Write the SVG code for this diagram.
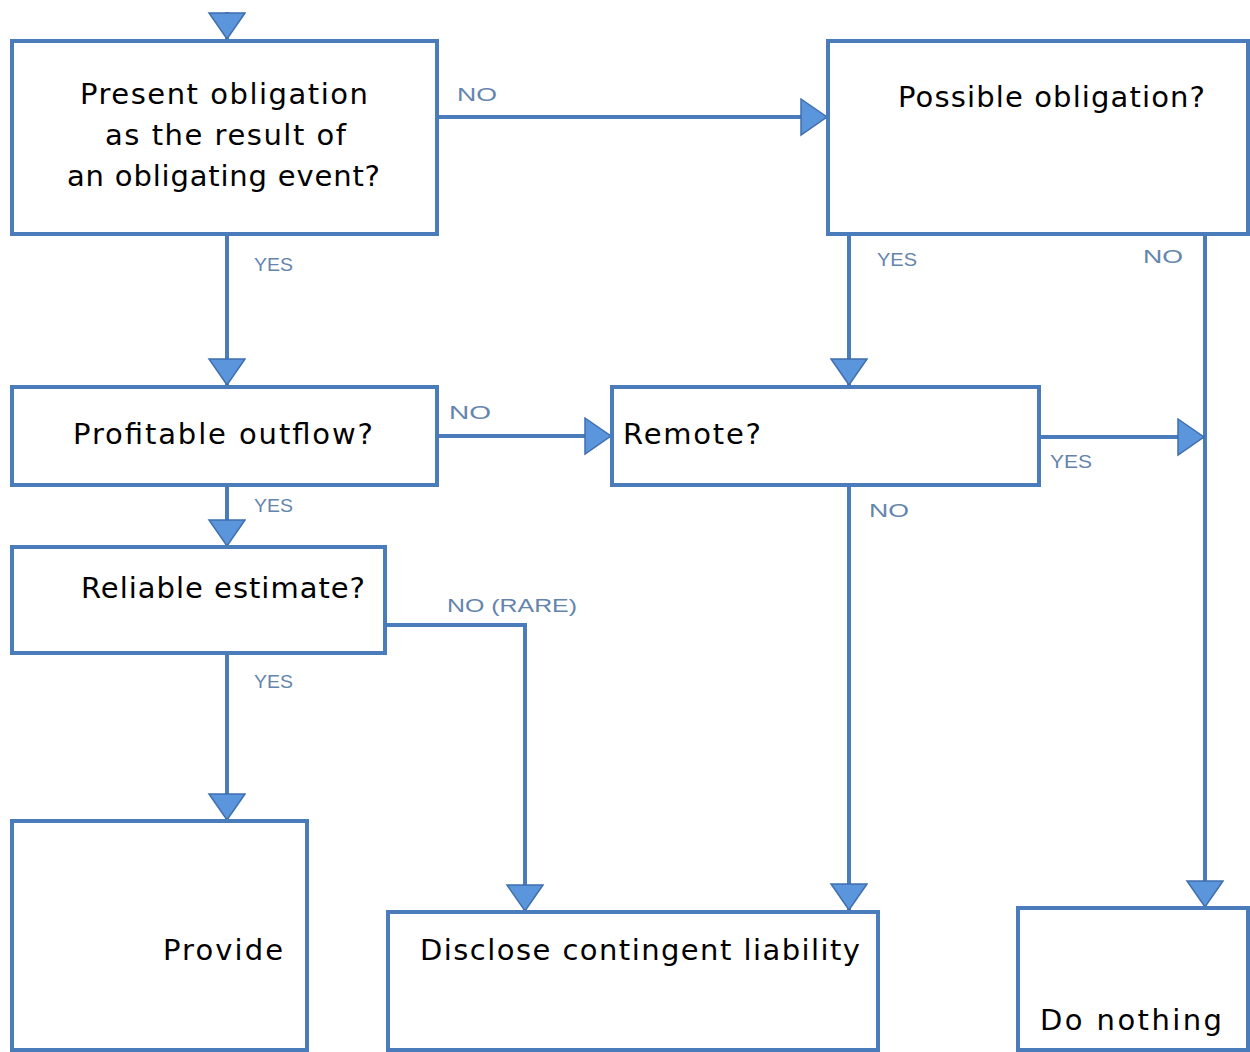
<svg xmlns="http://www.w3.org/2000/svg" width="1250" height="1052" viewBox="0 0 1250 1052">
<defs>
<style>
.box{fill:#ffffff;stroke:#4a7bbb;stroke-width:4}
.conn{fill:none;stroke:#4a7bbb;stroke-width:4}
.t{font-family:"DejaVu Sans","Liberation Sans",sans-serif;font-size:29px;fill:#000}
.lbl{font-family:"Liberation Sans",Arial,sans-serif;font-size:18px;fill:#6484ad}
</style>
<marker id="ah" markerUnits="userSpaceOnUse" markerWidth="30" markerHeight="40" refX="27" refY="19" orient="auto" viewBox="0 0 30 40">
<path d="M1,1 L27,19 L1,37 Z" fill="#5b95dc" stroke="#3f6fae" stroke-width="1.5"/>
</marker>
</defs>
<rect width="1250" height="1052" fill="#ffffff"/>
<g id="connectors">
<path class="conn" d="M227,12 L227,39" marker-end="url(#ah)"/>
<path class="conn" d="M437,117 L827,117" marker-end="url(#ah)"/>
<path class="conn" d="M227,234 L227,385" marker-end="url(#ah)"/>
<path class="conn" d="M437,436 L611,436" marker-end="url(#ah)"/>
<path class="conn" d="M849,234 L849,385" marker-end="url(#ah)"/>
<path class="conn" d="M1205,234 L1205,907"/>
<path class="conn" d="M1205,880 L1205,907" marker-end="url(#ah)"/>
<path class="conn" d="M1039,437 L1204,437" marker-end="url(#ah)"/>
<path class="conn" d="M227,485 L227,546" marker-end="url(#ah)"/>
<path class="conn" d="M227,653 L227,820" marker-end="url(#ah)"/>
<path class="conn" d="M385,625 L525,625 L525,911" marker-end="url(#ah)"/>
<path class="conn" d="M849,485 L849,910" marker-end="url(#ah)"/>
<text class="lbl" x="457" y="101" textLength="40" lengthAdjust="spacingAndGlyphs">NO</text>
<text class="lbl" x="254" y="271" textLength="39" lengthAdjust="spacingAndGlyphs">YES</text>
<text class="lbl" x="877" y="266" textLength="40" lengthAdjust="spacingAndGlyphs">YES</text>
<text class="lbl" x="1143" y="263" textLength="40" lengthAdjust="spacingAndGlyphs">NO</text>
<text class="lbl" x="449" y="419" textLength="42" lengthAdjust="spacingAndGlyphs">NO</text>
<text class="lbl" x="1050" y="468" textLength="42" lengthAdjust="spacingAndGlyphs">YES</text>
<text class="lbl" x="254" y="512" textLength="39" lengthAdjust="spacingAndGlyphs">YES</text>
<text class="lbl" x="869" y="517" textLength="40" lengthAdjust="spacingAndGlyphs">NO</text>
<text class="lbl" x="447" y="612" textLength="130" lengthAdjust="spacingAndGlyphs">NO (RARE)</text>
<text class="lbl" x="254" y="688" textLength="39" lengthAdjust="spacingAndGlyphs">YES</text>
</g>
<g id="n-present">
<rect class="box" x="12" y="41" width="425" height="193"/>
<text class="t" x="80" y="104" textLength="288">Present obligation</text>
<text class="t" x="105" y="145" textLength="241">as the result of</text>
<text class="t" x="67" y="186" textLength="313">an obligating event?</text>
</g>
<g id="n-possible">
<rect class="box" x="828" y="41" width="420" height="193"/>
<text class="t" x="898" y="107" textLength="307">Possible obligation?</text>
</g>
<g id="n-profitable">
<rect class="box" x="12" y="387" width="425" height="98"/>
<text class="t" x="73" y="444" textLength="300">Profitable outflow?</text>
</g>
<g id="n-remote">
<rect class="box" x="612" y="387" width="427" height="98"/>
<text class="t" x="623" y="444" textLength="138">Remote?</text>
</g>
<g id="n-reliable">
<rect class="box" x="12" y="547" width="373" height="106"/>
<text class="t" x="81" y="598" textLength="284">Reliable estimate?</text>
</g>
<g id="n-provide">
<rect class="box" x="12" y="821" width="295" height="229"/>
<text class="t" x="163" y="960" textLength="120">Provide</text>
</g>
<g id="n-disclose">
<rect class="box" x="388" y="912" width="490" height="138"/>
<text class="t" x="420" y="960" textLength="440">Disclose contingent liability</text>
</g>
<g id="n-nothing">
<rect class="box" x="1018" y="908" width="230" height="142"/>
<text class="t" x="1040" y="1030" textLength="182">Do nothing</text>
</g>
</svg>
